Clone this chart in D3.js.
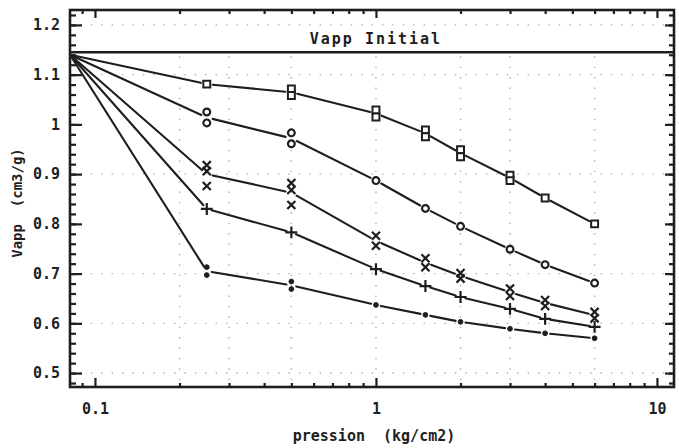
<!DOCTYPE html>
<html>
<head>
<meta charset="utf-8">
<script src="https://cdn.jsdelivr.net/npm/d3@7"></script>
<style>
  html, body { margin: 0; padding: 0; background: #fff; }
  svg { display: block; }
  text { font-family: "DejaVu Sans Mono", "Liberation Mono", monospace; font-weight: bold; fill: #1e1e1e; }
</style>
</head>
<body>
<svg id="chart" width="679" height="448"></svg>
<script>
// Pressure steps (kg/cm2) at which the apparent volume was measured
const pressures = [0.25, 0.5, 1, 1.5, 2, 3, 4, 6];

// Initial apparent volume and the pressure where every curve begins
const vappInitial = 1.145;
const startPressure = 0.0815;
const startVapp = 1.14;

// Replicate readings of Vapp (cm3/g) at each pressure, one list per sample
const seriesSquare = [[1.081], [1.071, 1.058], [1.029, 1.015], [0.989, 0.975], [0.949, 0.935], [0.898, 0.887], [0.852], [0.800]];
const seriesCircle = [[1.025, 1.003], [0.983, 0.961], [0.887], [0.831], [0.795], [0.749], [0.718], [0.681]];
const seriesCross  = [[0.918, 0.906, 0.876], [0.882, 0.868, 0.838], [0.776, 0.756], [0.731, 0.713], [0.701, 0.690], [0.670, 0.655], [0.647, 0.635], [0.623, 0.610]];
const seriesPlus   = [[0.830], [0.783], [0.709], [0.675], [0.653], [0.629], [0.609], [0.593]];
const seriesDot    = [[0.713, 0.697], [0.684, 0.669], [0.637], [0.617], [0.603], [0.589], [0.580], [0.570]];

// Axis ticks
const xMajorTicks = [0.1, 1, 10];
const xMajorLabels = ["0.1", "1", "10"];
const xMinorTicks = [0.09, 0.2, 0.3, 0.4, 0.5, 0.6, 0.7, 0.8, 0.9, 2, 3, 4, 5, 6, 7, 8, 9];
const yMajorTicks = [0.5, 0.6, 0.7, 0.8, 0.9, 1.0, 1.1, 1.2];
const yMajorLabels = ["0.5", "0.6", "0.7", "0.8", "0.9", "1", "1.1", "1.2"];
const yMinorTicks = d3.range(0.48, 1.23, 0.02).map(v => +v.toFixed(2));

// Dotted guide lines
const yGuides = [0.5, 0.6, 0.7, 0.9, 1.1, 1.2];
const xGuides = [0.2, 0.3, 0.5, 1, 2, 3, 6];

const xTitle = "pression  (kg/cm2)";
const yTitle = "Vapp  (cm3/g)";
const bandLabel = "Vapp Initial";

const svg = d3.select("#chart");
const frame = { left: 70, right: 674, top: 10, bottom: 387 };

const x = d3.scaleLog().domain([startPressure, 11.5]).range([frame.left, frame.right]);
const y = d3.scaleLinear().domain([0.472, 1.23]).range([frame.bottom, frame.top]);

const ink = "#1e1e1e";

// Sparse dotted grid
const grid = svg.append("g").attr("stroke", "#777").attr("stroke-width", 1.4)
  .attr("stroke-dasharray", "1.4,9").attr("opacity", 0.6);
grid.selectAll("line.h").data(yGuides).join("line").attr("class", "h")
  .attr("x1", frame.left).attr("x2", frame.right).attr("y1", d => y(d)).attr("y2", d => y(d));
grid.selectAll("line.v").data(xGuides).join("line").attr("class", "v")
  .attr("x1", d => x(d)).attr("x2", d => x(d)).attr("y1", y(vappInitial) + 4).attr("y2", frame.bottom);

// Axes: ticks point into the plotting area on all four sides
function styleAxis(g) {
  g.selectAll(".domain").remove();
  g.selectAll(".tick line").attr("stroke", ink).attr("stroke-width", 2.2);
}

svg.append("g").attr("transform", `translate(${frame.left},0)`)
  .call(d3.axisLeft(y).tickValues(yMinorTicks).tickSize(-6).tickFormat(""))
  .call(styleAxis);
svg.append("g").attr("transform", `translate(${frame.left},0)`)
  .call(d3.axisLeft(y).tickValues(yMajorTicks).tickSize(-12).tickPadding(10)
    .tickFormat((d, i) => yMajorLabels[i]))
  .call(styleAxis)
  .call(g => g.selectAll("text").attr("font-size", 15).attr("fill", ink));

svg.append("g").attr("transform", `translate(${frame.right},0)`)
  .call(d3.axisRight(y).tickValues(yMinorTicks).tickSize(-5).tickFormat(""))
  .call(styleAxis);
svg.append("g").attr("transform", `translate(${frame.right},0)`)
  .call(d3.axisRight(y).tickValues(yMajorTicks).tickSize(-9).tickFormat(""))
  .call(styleAxis);

svg.append("g").attr("transform", `translate(0,${frame.bottom})`)
  .call(d3.axisBottom(x).tickValues(xMinorTicks).tickSize(-4).tickFormat(""))
  .call(styleAxis);
svg.append("g").attr("transform", `translate(0,${frame.bottom})`)
  .call(d3.axisBottom(x).tickValues(xMajorTicks).tickSize(-9).tickPadding(16)
    .tickFormat((d, i) => xMajorLabels[i]))
  .call(styleAxis)
  .call(g => g.selectAll("text").attr("font-size", 15).attr("fill", ink));

svg.append("g").attr("transform", `translate(0,${frame.top})`)
  .call(d3.axisTop(x).tickValues(xMinorTicks).tickSize(-4).tickFormat(""))
  .call(styleAxis);
svg.append("g").attr("transform", `translate(0,${frame.top})`)
  .call(d3.axisTop(x).tickValues(xMajorTicks).tickSize(-8).tickFormat(""))
  .call(styleAxis);

// Frame
svg.append("rect").attr("x", frame.left).attr("y", frame.top)
  .attr("width", frame.right - frame.left).attr("height", frame.bottom - frame.top)
  .attr("fill", "none").attr("stroke", ink).attr("stroke-width", 2.6);

// Initial volume reference line and its label
svg.append("line")
  .attr("x1", frame.left).attr("x2", frame.right)
  .attr("y1", y(vappInitial)).attr("y2", y(vappInitial))
  .attr("stroke", ink).attr("stroke-width", 2.6);
svg.append("text")
  .attr("x", x(1)).attr("y", 44)
  .attr("text-anchor", "middle").attr("font-size", 15)
  .attr("letter-spacing", 2)
  .text(bandLabel);

// Curves: mean of the replicates at each pressure, drawn as segments that stop short of the markers
function drawCurve(series, gap) {
  const pts = [[startPressure, startVapp]].concat(pressures.map((p, i) => [p, d3.mean(series[i])]));
  const segs = d3.pairs(pts).map(([a, b], i) => {
    const x0 = x(a[0]), y0 = y(a[1]), x1 = x(b[0]), y1 = y(b[1]);
    const len = Math.hypot(x1 - x0, y1 - y0);
    const ux = (x1 - x0) / len, uy = (y1 - y0) / len;
    const g0 = i === 0 ? 0 : gap;
    return [x0 + ux * g0, y0 + uy * g0, x1 - ux * gap, y1 - uy * gap];
  });
  svg.append("g").selectAll("line").data(segs).join("line")
    .attr("x1", d => d[0]).attr("y1", d => d[1])
    .attr("x2", d => d[2]).attr("y2", d => d[3])
    .attr("stroke", ink).attr("stroke-width", 2.1).attr("stroke-linecap", "round");
}

function markerPoints(series) {
  return pressures.flatMap((p, i) => series[i].map(v => [p, v]));
}

const timesType = d3.symbolTimes || d3.symbolCross;
const plusType = d3.symbolPlus || d3.symbolCross;

function drawMarkers(series, type, size, fill, strokeW) {
  svg.append("g").selectAll("path").data(markerPoints(series)).join("path")
    .attr("transform", d => `translate(${x(d[0])},${y(d[1])})`)
    .attr("d", d3.symbol().type(type).size(size))
    .attr("fill", fill).attr("stroke", ink).attr("stroke-width", strokeW);
}

drawCurve(seriesSquare, 6);
drawCurve(seriesCircle, 6);
drawCurve(seriesCross, 6);
drawCurve(seriesPlus, 5);
drawCurve(seriesDot, 5);

drawMarkers(seriesSquare, d3.symbolSquare, 48, "#fff", 2);
drawMarkers(seriesCircle, d3.symbolCircle, 36, "#fff", 2.2);
drawMarkers(seriesCross, timesType, 44, "none", 2.2);
drawMarkers(seriesPlus, plusType, 48, ink, 2.2);
drawMarkers(seriesDot, d3.symbolCircle, 18, ink, 1);

// Axis titles
svg.append("text")
  .attr("x", (frame.left + frame.right) / 2 + 2).attr("y", 441)
  .attr("text-anchor", "middle").attr("font-size", 15)
  .style("white-space", "pre")
  .text(xTitle);
svg.append("text")
  .attr("transform", `translate(22,203) rotate(-90)`)
  .attr("text-anchor", "middle").attr("font-size", 14)
  .style("white-space", "pre")
  .text(yTitle);
</script>
</body>
</html>
